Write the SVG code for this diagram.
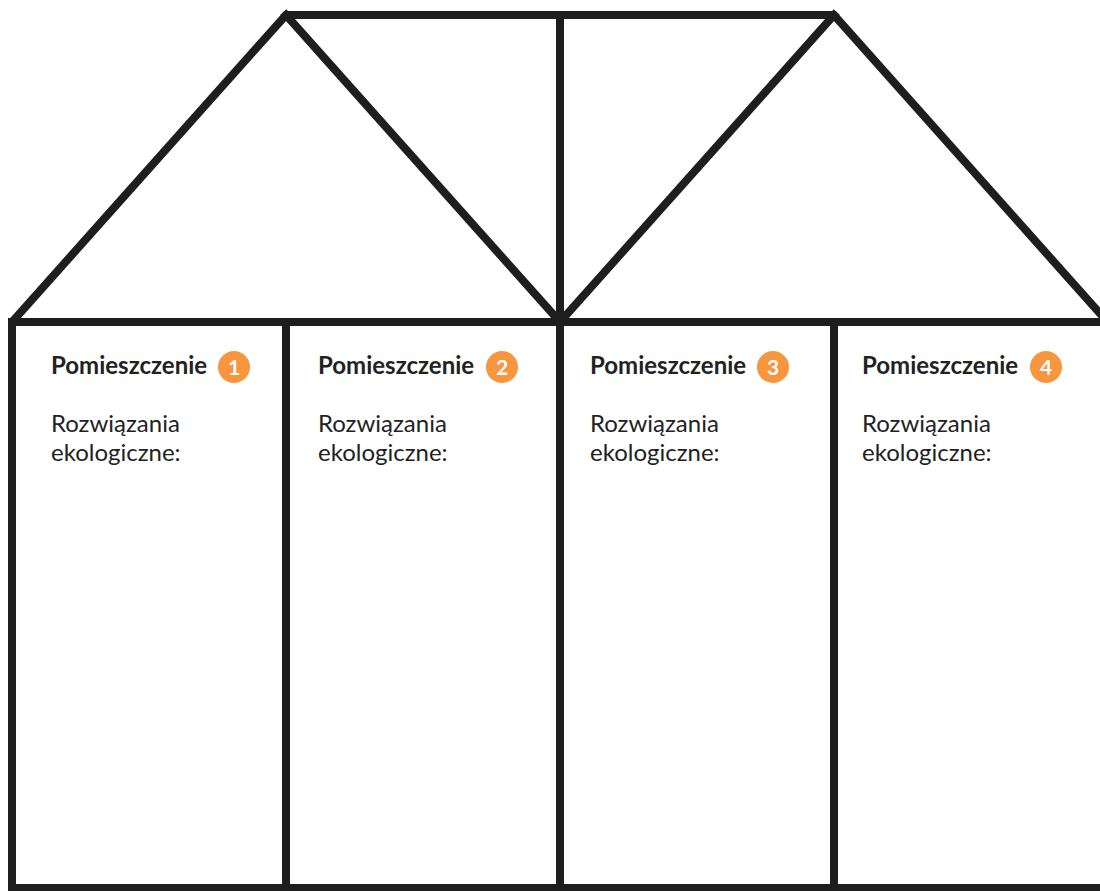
<svg xmlns="http://www.w3.org/2000/svg" width="1100" height="891" viewBox="0 0 1100 891">
<style>
.ln{stroke:#1e1e1e;stroke-width:8;fill:none;stroke-linejoin:miter;stroke-linecap:square}
.t{font-family:Lato,"Liberation Sans",sans-serif;font-size:24px;fill:#222}
.h{font-weight:bold}
.b{fill:#f7963e}
.n{font-family:Lato,"Liberation Sans",sans-serif;font-size:21px;font-weight:bold;fill:#fff;text-anchor:middle}
</style>
<rect width="1100" height="891" fill="#fff"/>
<g id="frame">
<path class="ln" d="M12,888 V322 L286,15 H834 L1112,327"/>
<path class="ln" d="M12,322 H1104"/>
<path class="ln" d="M286,15 L560,322 L834,15"/>
<path class="ln" d="M286,322 V888 M560,15 V888 M834,322 V888"/>
<path class="ln" d="M12,888 H1104"/>
</g>
<g id="room1">
<text class="t h" x="51" y="374">Pomieszczenie</text>
<circle class="b" cx="234" cy="367" r="16"/>
<text class="n" x="234" y="374.5">1</text>
<text class="t" x="51" y="432">Rozwiązania</text>
<text class="t" x="51" y="461">ekologiczne:</text>
</g>
<g id="room2">
<text class="t h" x="318" y="374">Pomieszczenie</text>
<circle class="b" cx="502" cy="367" r="16"/>
<text class="n" x="502" y="374.5">2</text>
<text class="t" x="318" y="432">Rozwiązania</text>
<text class="t" x="318" y="461">ekologiczne:</text>
</g>
<g id="room3">
<text class="t h" x="590" y="374">Pomieszczenie</text>
<circle class="b" cx="773" cy="367" r="16"/>
<text class="n" x="773" y="374.5">3</text>
<text class="t" x="590" y="432">Rozwiązania</text>
<text class="t" x="590" y="461">ekologiczne:</text>
</g>
<g id="room4">
<text class="t h" x="862" y="374">Pomieszczenie</text>
<circle class="b" cx="1046" cy="367" r="16"/>
<text class="n" x="1046" y="374.5">4</text>
<text class="t" x="862" y="432">Rozwiązania</text>
<text class="t" x="862" y="461">ekologiczne:</text>
</g>
</svg>
